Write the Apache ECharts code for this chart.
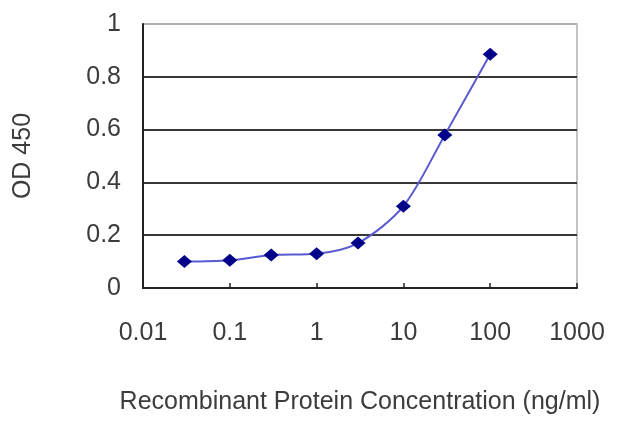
<!DOCTYPE html>
<html>
<head>
<meta charset="utf-8">
<script src="https://cdn.jsdelivr.net/npm/echarts@6/dist/echarts.min.js"></script>
<style>
    html, body { margin: 0; padding: 0; background: #fff; }
    #chart { width: 640px; height: 427px; }
</style>
</head>
<body>
<div id="chart"></div>
<script>
// 数据
const concentrations = [0.03, 0.1, 0.3, 1, 3, 10, 30, 100];
const odValues = [0.10, 0.105, 0.125, 0.13, 0.17, 0.31, 0.58, 0.885];
const xTickLabels = ['0.01', '0.1', '1', '10', '100', '1000'];
const yTickLabels = ['0', '0.2', '0.4', '0.6', '0.8', '1'];

const chart = echarts.init(document.getElementById('chart'));
const textColor = '#3c3c3c';
const font = 'Liberation Sans, Arial, sans-serif';

const option = {
    animation: false,
    grid: {
        left: 143,
        right: 63,
        top: 24,
        bottom: 139,
        show: true,
        borderColor: '#b0b0b0',
        borderWidth: 1.5
    },
    xAxis: {
        type: 'log',
        logBase: 10,
        min: 0.01,
        max: 1000,
        name: 'Recombinant Protein Concentration (ng/ml)',
        nameLocation: 'middle',
        nameGap: 102,
        nameTextStyle: { color: textColor, fontSize: 25, fontFamily: font },
        axisLine: { lineStyle: { color: '#222', width: 2 } },
        axisTick: { show: true, inside: true, length: 5, lineStyle: { color: '#222', width: 1.5 } },
        splitLine: { show: false },
        minorTick: { show: false },
        axisLabel: {
            color: textColor,
            fontSize: 25,
            fontFamily: font,
            margin: 33,
            formatter: v => {
                const i = Math.round(Math.log10(v)) + 2;
                return xTickLabels[i] !== undefined ? xTickLabels[i] : '';
            }
        }
    },
    yAxis: {
        type: 'value',
        min: 0,
        max: 1,
        interval: 0.2,
        name: 'OD 450',
        nameLocation: 'middle',
        nameGap: 107,
        nameTextStyle: { color: textColor, fontSize: 25, fontFamily: font },
        axisLine: { show: true, lineStyle: { color: '#222', width: 2 } },
        axisTick: { show: false },
        splitLine: {
            show: true,
            lineStyle: { color: ['#222', '#383838', '#383838', '#383838', '#383838', '#b0b0b0'], width: 2 }
        },
        axisLabel: {
            color: textColor,
            fontSize: 25,
            fontFamily: font,
            margin: 22,
            formatter: v => yTickLabels[Math.round(v / 0.2)]
        }
    },
    series: [
        {
            type: 'line',
            data: concentrations.map((c, i) => [c, odValues[i]]),
            smooth: 0.3,
            symbol: 'diamond',
            symbolSize: [15, 13],
            itemStyle: { color: '#000088' },
            lineStyle: { color: '#5a5ad0', width: 2 }
        }
    ]
};

chart.setOption(option);
</script>
</body>
</html>
